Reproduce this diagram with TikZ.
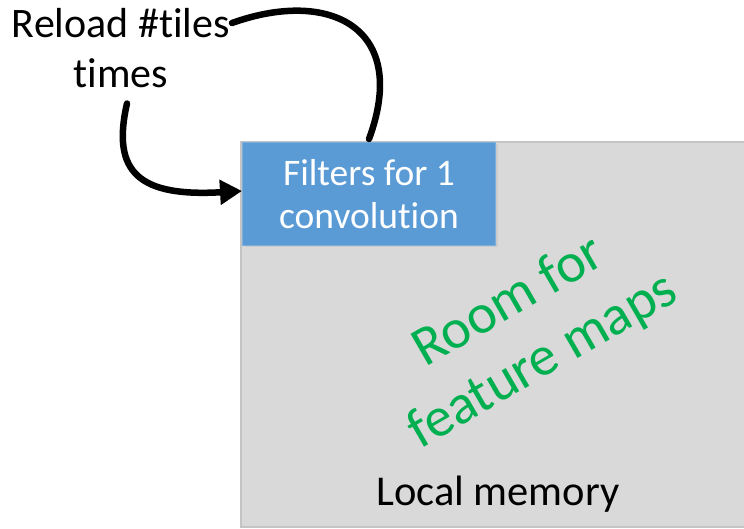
\documentclass[tikz,border=0pt]{standalone}
\usepackage{fontspec}
\setmainfont{Carlito}[Ligatures={NoCommon}]
\usepackage{xcolor}
\usepackage{tikz}
\usetikzlibrary{arrows.meta}
\usetikzlibrary{shadows}
\definecolor{filtblue}{HTML}{5B9BD5}
\definecolor{memgray}{HTML}{D9D9D9}
\definecolor{memline}{HTML}{C4C4C4}
\definecolor{roomgreen}{HTML}{00B050}

\begin{document}
\begin{tikzpicture}
[x=1pt,y=1pt,
mem/.style={rectangle,draw=memline,fill=memgray,line width=2pt,minimum width=520pt,minimum height=385pt,inner sep=0pt},
filt/.style={rectangle,draw=filtblue!80!white,fill=filtblue,line width=1pt,minimum width=253pt,minimum height=103pt,align=center,text=white,font=\fontsize{37.5}{43}\selectfont,drop shadow={opacity=0.15,shadow xshift=2pt,shadow yshift=-2pt}},
note/.style={align=center,inner sep=0pt,font=\fontsize{42}{50}\selectfont},
room/.style={align=center,inner sep=0pt,text=roomgreen,rotate=30,font=\fontsize{56}{68}\selectfont},
reloadline/.style={line width=6.5pt,line cap=round}]
\useasboundingbox (0,0) rectangle (744,528);
\clip (0,0) rectangle (744,528);
\node at (240,387) [mem,anchor=north west] (mem) {};
\node at (242,386) [filt,anchor=north west] (filt) {Filters for 1\\convolution};
\node at (121,440) [note,anchor=base] (reload) {Reload \#tiles\\times};
\node at (498,23)  [anchor=base,inner sep=0pt,font=\fontsize{42.5}{50}\selectfont] (lmem) {Local memory};
\node at (526,196) [room] (room) {Room for\\feature maps};
\coordinate (reloadend) at (232,505);
\draw [reloadline] ([yshift=3pt]filt.north) .. controls (410,500) and (330,540) .. (reloadend);
\draw [reloadline,-{Triangle[length=22pt,width=24pt]}] ([xshift=6pt,yshift=-15pt]reload.south) .. controls (111,355) and (140,331) .. ([yshift=3pt]filt.west);
\end{tikzpicture}
\end{document}
